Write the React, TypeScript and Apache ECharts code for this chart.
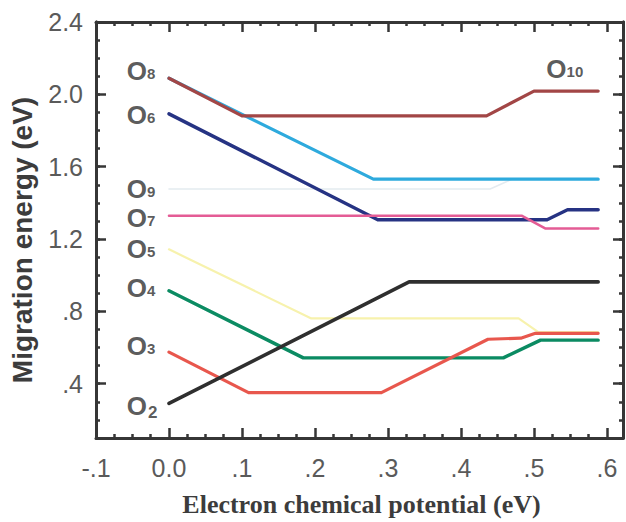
import React, { useEffect, useRef } from "react";
import * as echarts from "echarts";

// ---- data (x: electron chemical potential, eV; y: migration energy, eV) ----
const seriesNames = ["O9", "O5", "O8", "O10", "O6", "O7", "O4", "O3", "O2"];
const seriesColors = ["#e4ebf0", "#f7f2ad", "#2eaadd", "#a24646", "#263383", "#e45c95", "#0b8b62", "#e8574d", "#2f2f2f"];
const seriesWidths = [1.6, 2.2, 3.2, 3.2, 3.4, 2.6, 3.4, 3.2, 3.6];

const o9X = [0, 0.44, 0.47, 0.588];
const o9Y = [1.477, 1.477, 1.531, 1.531];
const o5X = [0, 0.195, 0.479, 0.506, 0.588];
const o5Y = [1.143, 0.761, 0.761, 0.685, 0.685];
const o8X = [0, 0.28, 0.588];
const o8Y = [2.089, 1.531, 1.531];
const o10X = [0, 0.1, 0.435, 0.5, 0.588];
const o10Y = [2.089, 1.881, 1.881, 2.018, 2.018];
const o6X = [0, 0.286, 0.518, 0.546, 0.588];
const o6Y = [1.892, 1.307, 1.307, 1.362, 1.362];
const o7X = [0, 0.483, 0.516, 0.588];
const o7Y = [1.329, 1.329, 1.258, 1.258];
const o4X = [0, 0.184, 0.458, 0.509, 0.588];
const o4Y = [0.914, 0.543, 0.543, 0.641, 0.641];
const o3X = [0, 0.109, 0.291, 0.437, 0.482, 0.502, 0.588];
const o3Y = [0.575, 0.351, 0.351, 0.646, 0.652, 0.679, 0.679];
const o2X = [0, 0.329, 0.588];
const o2Y = [0.291, 0.963, 0.963];

const seriesX = [o9X, o5X, o8X, o10X, o6X, o7X, o4X, o3X, o2X];
const seriesY = [o9Y, o5Y, o8Y, o10Y, o6Y, o7Y, o4Y, o3Y, o2Y];

// curve labels (O with subscript)
const labelSubs = ["8", "6", "9", "7", "5", "4", "3", "2", "10"];
const labelX = [-0.058, -0.058, -0.058, -0.058, -0.058, -0.058, -0.058, -0.058, 0.517];
const labelY = [2.127, 1.886, 1.477, 1.318, 1.143, 0.93, 0.608, 0.275, 2.138];

// axes ticks
const xTickValues = [-0.1, 0, 0.1, 0.2, 0.3, 0.4, 0.5, 0.6];
const xTickLabels = ["-.1", "0.0", ".1", ".2", ".3", ".4", ".5", ".6"];
const yTickValues = [0.4, 0.8, 1.2, 1.6, 2.0, 2.4];
const yTickLabels = [".4", ".8", "1.2", "1.6", "2.0", "2.4"];

const xMin = -0.1;
const xMax = 0.622;
const yMin = 0.1;
const yMax = 2.4;

const AX = "#363636";
const SANS = "'Liberation Sans', Arial, sans-serif";
const SERIF = "'Liberation Serif', 'Times New Roman', serif";

function lookup(vals: number[], labels: string[], v: number): string {
  for (let i = 0; i < vals.length; i++) {
    if (Math.abs(vals[i] - v) < 1e-6) return labels[i];
  }
  return "";
}

export default function App() {
  const ref = useRef<HTMLDivElement>(null);
  useEffect(() => {
    if (!ref.current) return;
    const chart = echarts.init(ref.current, null, { renderer: "svg" });

    const axisLine = { show: true, onZero: false, lineStyle: { color: AX, width: 3 } };

    const xBase = (pos: "bottom" | "top", withLabels: boolean) => ({
      type: "value",
      position: pos,
      min: xMin,
      max: xMax,
      interval: 0.1,
      axisLine,
      axisTick: { show: true, inside: true, length: 10, lineStyle: { color: AX, width: 2.5 } },
      minorTick: { show: true, splitNumber: 4, length: 4, lineStyle: { color: AX, width: 2.5 } },
      splitLine: { show: false },
      minorSplitLine: { show: false },
      axisLabel: withLabels
        ? {
            show: true,
            customValues: xTickValues,
            formatter: (v: number) => lookup(xTickValues, xTickLabels, v),
            fontSize: 25,
            color: "#5a5a5a",
            fontFamily: SANS,
            margin: 17,
          }
        : { show: false },
      ...(withLabels
        ? {
            name: "Electron chemical potential (eV)",
            nameLocation: "middle",
            nameGap: 53,
            nameTextStyle: { fontSize: 26, fontWeight: "bold", color: "#3c3c3c", fontFamily: SERIF, padding: [0, 0, 0, 4] },
          }
        : {}),
    });

    const yMinor = (pos: "left" | "right") => ({
      type: "value",
      position: pos,
      min: yMin,
      max: yMax,
      interval: 0.1,
      axisLine,
      axisTick: { show: true, inside: true, length: 4, lineStyle: { color: AX, width: 2.5 } },
      splitLine: { show: false },
      axisLabel: { show: false },
    });

    const yMajor = (pos: "left" | "right", withLabels: boolean) => ({
      type: "value",
      position: pos,
      min: yMin,
      max: yMax,
      interval: 0.1,
      axisLine,
      axisTick: { show: true, inside: true, length: 10, customValues: yTickValues, lineStyle: { color: AX, width: 2.5 } },
      splitLine: { show: false },
      axisLabel: withLabels
        ? {
            show: true,
            customValues: yTickValues,
            formatter: (v: number) => lookup(yTickValues, yTickLabels, v),
            fontSize: 25,
            color: "#5a5a5a",
            fontFamily: SANS,
            margin: 13,
          }
        : { show: false },
      ...(withLabels
        ? {
            name: "Migration energy (eV)",
            nameLocation: "middle",
            nameRotate: 90,
            nameGap: 60,
            nameTextStyle: { fontSize: 28, fontWeight: "bold", color: "#3c3c3c", fontFamily: SANS, padding: [0, 20, 0, 0] },
          }
        : {}),
    });

    const lineSeries = seriesNames.map((name, i) => ({
      type: "line",
      name,
      xAxisIndex: 0,
      yAxisIndex: 1,
      data: seriesX[i].map((x, j) => [x, seriesY[i][j]]),
      showSymbol: false,
      symbol: "none",
      lineStyle: { color: seriesColors[i], width: seriesWidths[i], cap: "round", join: "round" },
      silent: true,
      z: 2 + i,
    }));

    const labelSeries = {
      type: "scatter",
      xAxisIndex: 0,
      yAxisIndex: 1,
      symbolSize: 0,
      silent: true,
      z: 20,
      data: labelSubs.map((s, i) => [labelX[i], labelY[i], s]),
      label: {
        show: true,
        position: "right",
        distance: 0,
        formatter: (p: any) => {
          const s = p.data[2];
          return s === "2" ? `{o|O}{l|${s}}` : `{o|O}{s|${s}}`;
        },
        rich: {
          o: { fontSize: 26, fontWeight: "bold", color: "#303030", fontFamily: SANS },
          s: { fontSize: 15, fontWeight: "bold", color: "#303030", fontFamily: SANS, verticalAlign: "bottom", padding: [0, 0, 3, 0] },
          l: { fontSize: 17, fontWeight: "bold", color: "#303030", fontFamily: SANS, verticalAlign: "bottom", padding: [12, 0, 0, 1] },
        },
      },
    };

    chart.setOption({
      animation: false,
      backgroundColor: "#ffffff",
      grid: { left: 94, right: 3, top: 22, bottom: 79, containLabel: false },
      xAxis: [xBase("bottom", true), xBase("top", false)],
      yAxis: [yMinor("left"), yMajor("left", true), yMinor("right"), yMajor("right", false)],
      series: [...lineSeries, labelSeries],
    });

    return () => {
      chart.dispose();
    };
  }, []);

  return (
    <div
      ref={ref}
      style={{ position: "fixed", left: 0, top: 0, width: 626, height: 522, background: "#fff" }}
    />
  );
}
